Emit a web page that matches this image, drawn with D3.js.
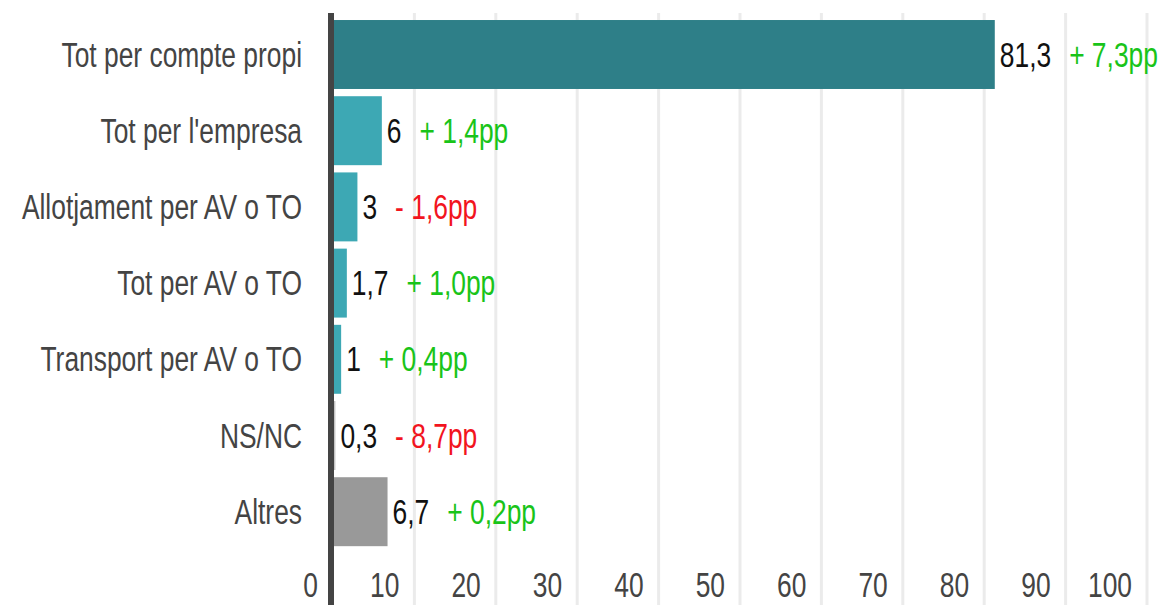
<!DOCTYPE html>
<html>
<head>
<meta charset="utf-8">
<script src="https://cdn.jsdelivr.net/npm/d3@7"></script>
<style>
  body { margin: 0; background: #fff; }
  text { font-family: "Liberation Sans", Arial, sans-serif; }
</style>
</head>
<body>
<div id="chart"></div>
<script>
//=========Data=========//
var categories = [
  "Tot per compte propi",
  "Tot per l'empresa",
  "Allotjament per AV o TO",
  "Tot per AV o TO",
  "Transport per AV o TO",
  "NS/NC",
  "Altres",
];
var values = [81.3, 6, 3, 1.7, 1, 0.3, 6.7];
var valueLabels = ["81,3", "6", "3", "1,7", "1", "0,3", "6,7"];
var deltaLabels = ["+ 7,3pp", "+ 1,4pp", "- 1,6pp", "+ 1,0pp", "+ 0,4pp", "- 8,7pp", "+ 0,2pp"];
var xTicks = [0, 10, 20, 30, 40, 50, 60, 70, 80, 90, 100];

//=========SVG area=========//
var svgWidth = 1166;
var svgHeight = 605;
// no narrow font installed, so squeeze a regular one horizontally
var squeeze = 0.765;
var fontSize = 34.5;

var svg = d3
  .select("#chart")
  .append("svg")
  .attr("width", svgWidth)
  .attr("height", svgHeight);

// scales
var xScale = d3.scaleLinear().domain([0, 100]).range([333, 1147]);
var yScale = d3
  .scaleBand()
  .domain(categories)
  .range([16.4, 549.8])
  .paddingInner(0.095)
  .paddingOuter(0.0475);

// bar colours
function barColor(d, i) {
  if (i === 0) return "#2e7f88";
  if (d.cat === "NS/NC") return "#c4c4c4";
  if (d.cat === "Altres") return "#999999";
  return "#3da8b4";
}

// helper for narrow text placed at x, y
function narrowText(g, x, y) {
  return g
    .append("text")
    .attr("transform", `translate(${x}, ${y}) scale(${squeeze}, 1)`)
    .attr("font-size", fontSize);
}

var rows = categories.map(function (c, i) {
  return { cat: c, value: values[i], label: valueLabels[i], delta: deltaLabels[i] };
});

//=========Gridlines=========//
svg
  .append("g")
  .selectAll("line")
  .data(xTicks.filter((t) => t > 0))
  .enter()
  .append("line")
  .attr("x1", (d) => xScale(d))
  .attr("x2", (d) => xScale(d))
  .attr("y1", 13)
  .attr("y2", svgHeight)
  .attr("stroke", "#ebebeb")
  .attr("stroke-width", 3);

//=========Bars=========//
svg
  .append("g")
  .selectAll("rect")
  .data(rows)
  .enter()
  .append("rect")
  .attr("x", xScale(0))
  .attr("y", (d) => yScale(d.cat))
  .attr("width", (d) => xScale(d.value) - xScale(0))
  .attr("height", yScale.bandwidth())
  .attr("fill", barColor);

// y axis line
svg
  .append("line")
  .attr("x1", 331)
  .attr("x2", 331)
  .attr("y1", 13)
  .attr("y2", svgHeight)
  .attr("stroke", "#444444")
  .attr("stroke-width", 6);

//=========Category labels=========//
var catGroup = svg.append("g");
categories.forEach(function (c) {
  narrowText(catGroup, 302, yScale(c) + yScale.bandwidth() / 2)
    .attr("dy", "0.35em")
    .attr("text-anchor", "end")
    .attr("fill", "#444444")
    .text(c);
});

//=========Value + change labels=========//
var labelGroup = svg.append("g");
rows.forEach(function (d) {
  var cy = yScale(d.cat) + yScale.bandwidth() / 2;
  var x0 = xScale(d.value) + 5;
  var valText = narrowText(labelGroup, x0, cy)
    .attr("dy", "0.35em")
    .attr("fill", "#111111")
    .text(d.label);
  var w = valText.node().getComputedTextLength() * squeeze;
  narrowText(labelGroup, x0 + w + 18, cy)
    .attr("dy", "0.35em")
    .attr("fill", d.delta.charAt(0) === "-" ? "#f2141e" : "#19c419")
    .text(d.delta);
});

//=========X tick labels=========//
var tickGroup = svg.append("g");
xTicks.forEach(function (t) {
  narrowText(tickGroup, xScale(t) - 15, 597)
    .attr("text-anchor", "end")
    .attr("fill", "#444444")
    .text(t);
});
</script>
</body>
</html>
